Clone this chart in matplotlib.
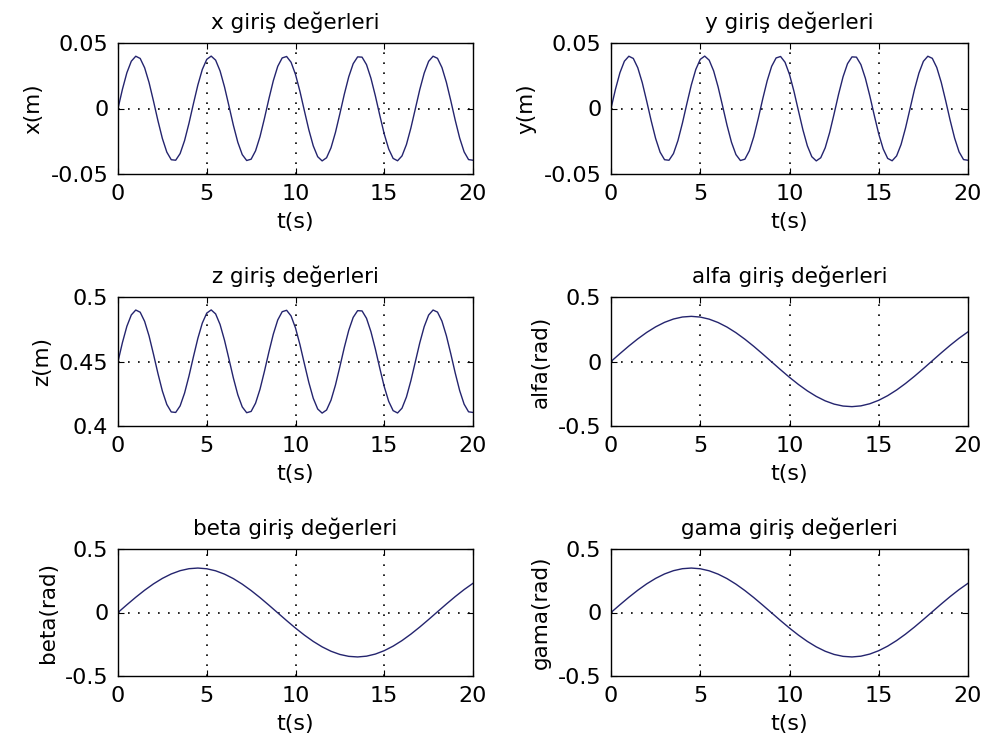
import matplotlib
matplotlib.use("Agg")
import matplotlib.pyplot as plt

plt.rcParams['font.family'] = ['DejaVu Sans']

# time axes
t_fast = [i * 0.25 for i in range(81)]
t_slow = [i * 0.5 for i in range(41)]

x_vals = [0.0000, 0.0147, 0.0273, 0.0361, 0.0399, 0.0382, 0.0311, 0.0198, 0.0056, -0.0093,
          -0.0229, -0.0333, -0.0391, -0.0395, -0.0344, -0.0245, -0.0112, 0.0037, 0.0180, 0.0298,
          0.0375, 0.0400, 0.0369, 0.0287, 0.0165, 0.0020, -0.0128, -0.0258, -0.0352, -0.0397,
          -0.0387, -0.0323, -0.0215, -0.0076, 0.0073, 0.0212, 0.0322, 0.0386, 0.0397, 0.0353,
          0.0260, 0.0131, -0.0017, -0.0162, -0.0285, -0.0368, -0.0400, -0.0376, -0.0300, -0.0183,
          -0.0040, 0.0109, 0.0242, 0.0342, 0.0394, 0.0392, 0.0335, 0.0231, 0.0096, -0.0053,
          -0.0195, -0.0309, -0.0381, -0.0399, -0.0362, -0.0275, -0.0149, -0.0003, 0.0144, 0.0270,
          0.0360, 0.0399, 0.0383, 0.0313, 0.0200, 0.0059, -0.0090, -0.0226, -0.0331, -0.0390,
          -0.0395]

y_vals = [0.0000, 0.0147, 0.0273, 0.0361, 0.0399, 0.0382, 0.0311, 0.0198, 0.0056, -0.0093,
          -0.0229, -0.0333, -0.0391, -0.0395, -0.0344, -0.0245, -0.0112, 0.0037, 0.0180, 0.0298,
          0.0375, 0.0400, 0.0369, 0.0287, 0.0165, 0.0020, -0.0128, -0.0258, -0.0352, -0.0397,
          -0.0387, -0.0323, -0.0215, -0.0076, 0.0073, 0.0212, 0.0322, 0.0386, 0.0397, 0.0353,
          0.0260, 0.0131, -0.0017, -0.0162, -0.0285, -0.0368, -0.0400, -0.0376, -0.0300, -0.0183,
          -0.0040, 0.0109, 0.0242, 0.0342, 0.0394, 0.0392, 0.0335, 0.0231, 0.0096, -0.0053,
          -0.0195, -0.0309, -0.0381, -0.0399, -0.0362, -0.0275, -0.0149, -0.0003, 0.0144, 0.0270,
          0.0360, 0.0399, 0.0383, 0.0313, 0.0200, 0.0059, -0.0090, -0.0226, -0.0331, -0.0390,
          -0.0395]

z_vals = [0.4500, 0.4647, 0.4773, 0.4861, 0.4899, 0.4882, 0.4811, 0.4698, 0.4556, 0.4407,
          0.4271, 0.4167, 0.4109, 0.4105, 0.4156, 0.4255, 0.4388, 0.4537, 0.4680, 0.4798,
          0.4875, 0.4900, 0.4869, 0.4787, 0.4665, 0.4520, 0.4372, 0.4242, 0.4148, 0.4103,
          0.4113, 0.4177, 0.4285, 0.4424, 0.4573, 0.4712, 0.4822, 0.4886, 0.4897, 0.4853,
          0.4760, 0.4631, 0.4483, 0.4338, 0.4215, 0.4132, 0.4100, 0.4124, 0.4200, 0.4317,
          0.4460, 0.4609, 0.4742, 0.4842, 0.4894, 0.4892, 0.4835, 0.4731, 0.4596, 0.4447,
          0.4305, 0.4191, 0.4119, 0.4101, 0.4138, 0.4225, 0.4351, 0.4497, 0.4644, 0.4770,
          0.4860, 0.4899, 0.4883, 0.4813, 0.4700, 0.4559, 0.4410, 0.4274, 0.4169, 0.4110,
          0.4105]

alfa_vals = [0.0000, 0.0609, 0.1200, 0.1754, 0.2255, 0.2686, 0.3036, 0.3293, 0.3449, 0.3500,
             0.3444, 0.3283, 0.3021, 0.2668, 0.2232, 0.1728, 0.1173, 0.0580, -0.0029, -0.0638,
             -0.1228, -0.1779, -0.2277, -0.2705, -0.3051, -0.3303, -0.3453, -0.3500, -0.3439, -0.3272,
             -0.3006, -0.2648, -0.2210, -0.1703, -0.1145, -0.0551, 0.0059, 0.0667, 0.1255, 0.1805,
             0.2300]
beta_vals = list(alfa_vals)
gama_vals = list(alfa_vals)

titles = ["x giriş değerleri", "y giriş değerleri", "z giriş değerleri",
          "alfa giriş değerleri", "beta giriş değerleri", "gama giriş değerleri"]
ylabels = ["x(m)", "y(m)", "z(m)", "alfa(rad)", "beta(rad)", "gama(rad)"]
xlabel = "t(s)"
xticks = [0, 5, 10, 15, 20]
xticklabels = ["0", "5", "10", "15", "20"]
yticks_small = [-0.05, 0, 0.05]
yticklabels_small = ["-0.05", "0", "0.05"]
yticks_z = [0.4, 0.45, 0.5]
yticklabels_z = ["0.4", "0.45", "0.5"]
yticks_ang = [-0.5, 0, 0.5]
yticklabels_ang = ["-0.5", "0", "0.5"]

series = [(t_fast, x_vals, yticks_small, yticklabels_small),
          (t_fast, y_vals, yticks_small, yticklabels_small),
          (t_fast, z_vals, yticks_z, yticklabels_z),
          (t_slow, alfa_vals, yticks_ang, yticklabels_ang),
          (t_slow, beta_vals, yticks_ang, yticklabels_ang),
          (t_slow, gama_vals, yticks_ang, yticklabels_ang)]

W, H = 986, 755
fig = plt.figure(figsize=(W / 100, H / 100), dpi=100)
fig.patch.set_facecolor("white")

col_left = [118, 611]
col_w = [355, 357]
row_top = [43, 297, 549]
row_h = [131, 129, 127]

line_color = "#24246e"

for i, (tt, vv, yt, ytl) in enumerate(series):
    r, c = divmod(i, 2)
    left = col_left[c] / W
    bottom = 1 - (row_top[r] + row_h[r]) / H
    ax = fig.add_axes([left, bottom, col_w[c] / W, row_h[r] / H])
    ax.plot(tt, vv, color=line_color, lw=1.0)
    ax.set_xlim(0, 20)
    ax.set_ylim(yt[0], yt[-1])
    ax.set_xticks(xticks)
    ax.set_xticklabels(xticklabels)
    ax.set_yticks(yt)
    ax.set_yticklabels(ytl)
    ax.minorticks_off()
    ax.grid(True, color="black", linestyle=(0, (1, 5)), lw=1.2)
    # hide grid lines that would lie on the box edges
    xg = ax.xaxis.get_gridlines()
    yg = ax.yaxis.get_gridlines()
    for gl in (xg[0], xg[-1], yg[0], yg[-1]):
        gl.set_visible(False)
    ax.tick_params(direction="in", length=4, width=0.8, labelsize=16, pad=7,
                   top=True, right=True)
    for s in ax.spines.values():
        s.set_linewidth(1.0)
    ax.set_title(titles[i], fontsize=15.5, pad=10)
    ax.set_xlabel(xlabel, fontsize=16, labelpad=6)
    ax.set_ylabel(ylabels[i], fontsize=15.5, labelpad=5)

fig.savefig("out.png", dpi=100)
